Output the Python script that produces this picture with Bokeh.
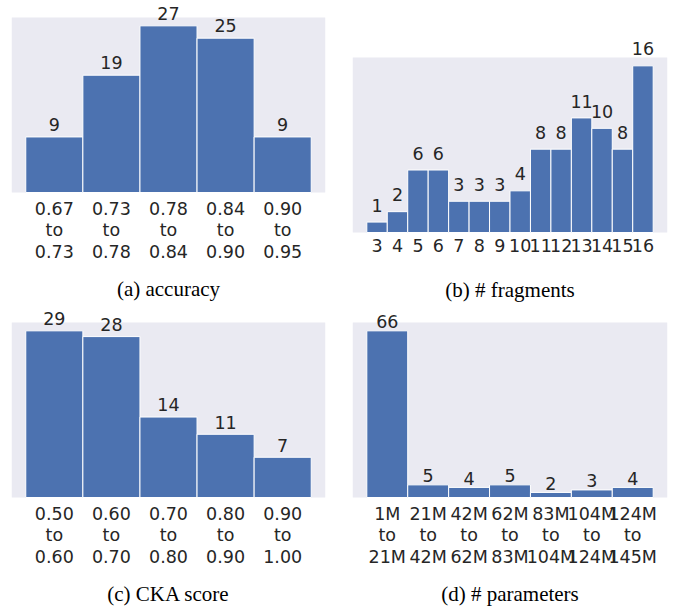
from bokeh.plotting import figure
from bokeh.models import FactorRange, Range1d, ColumnDataSource, LabelSet, BoxAnnotation
from bokeh.layouts import column, row
from bokeh.core.properties import value
from bokeh.embed import file_html
from bokeh.resources import INLINE

acc_bins = ["0.67\nto\n0.73", "0.73\nto\n0.78", "0.78\nto\n0.84", "0.84\nto\n0.90", "0.90\nto\n0.95"]
acc_counts = [9, 19, 27, 25, 9]

frag_bins = ["3", "4", "5", "6", "7", "8", "9", "10", "11", "12", "13", "14", "15", "16"]
frag_counts = [1, 2, 6, 6, 3, 3, 3, 4, 8, 8, 11, 10, 8, 16]

cka_bins = ["0.50\nto\n0.60", "0.60\nto\n0.70", "0.70\nto\n0.80", "0.80\nto\n0.90", "0.90\nto\n1.00"]
cka_counts = [29, 28, 14, 11, 7]

param_bins = ["1M\nto\n21M", "21M\nto\n42M", "42M\nto\n62M", "62M\nto\n83M",
              "83M\nto\n104M", "104M\nto\n124M", "124M\nto\n145M"]
param_counts = [66, 5, 4, 5, 2, 3, 4]

captions = ["(a) accuracy", "(b) # fragments", "(c) CKA score", "(d) # parameters"]

BAR = "#4C72B0"
BG = "#EAEAF2"
TXT = "#262626"
FS = "17.5px"
W, H = 337, 305
PANEL_H = 175  # height of the shaded panel in pixels


def make(bins, counts, caption, mbl, mbr, panel_bottom, cap_standoff):
    top_val = max(counts) * 1.05
    s = PANEL_H / top_val
    p = figure(x_range=FactorRange(*bins, range_padding=0.1, range_padding_units="percent"),
               y_range=Range1d((panel_bottom - H) / s, panel_bottom / s),
               width=W, height=H, title=None,
               output_backend="svg", toolbar_location=None,
               y_axis_location=None,
               min_border_left=mbl, min_border_right=mbr,
               min_border_top=0, min_border_bottom=0)
    p.add_layout(BoxAnnotation(bottom=0, top=top_val, fill_color=BG, fill_alpha=1.0,
                               line_color=None, level="underlay"))
    src = ColumnDataSource(dict(x=bins, y=counts, ly=[c + 1.0 for c in counts],
                                t=[str(c) for c in counts]))
    p.vbar(x="x", top="y", width=1.0, source=src, fill_color=BAR, line_color="white", line_width=1)
    p.add_layout(LabelSet(x="x", y="ly", text="t", source=src, text_align="center",
                          text_baseline="alphabetic", y_offset=0,
                          text_font=value("DejaVu Sans"),
                          text_font_size=value(FS), text_color=TXT))
    p.background_fill_color = "white"
    p.border_fill_color = "white"
    p.outline_line_color = None
    p.xgrid.visible = False
    p.ygrid.visible = False
    ax = p.xaxis[0]
    ax.fixed_location = 0
    ax.axis_line_color = None
    ax.major_tick_line_color = None
    ax.minor_tick_line_color = None
    ax.major_label_text_font = "DejaVu Sans"
    ax.major_label_text_font_size = FS
    ax.major_label_text_color = TXT
    ax.major_label_text_line_height = 1.08
    ax.major_label_standoff = 0
    ax.axis_label = caption
    ax.axis_label_text_font = "Liberation Serif"
    ax.axis_label_text_font_style = "normal"
    ax.axis_label_text_font_size = "21px"
    ax.axis_label_text_color = "black"
    ax.axis_label_standoff = cap_standoff
    return p


pa = make(acc_bins, acc_counts, captions[0], 11, 12, 192, 12)
pb = make(frag_bins, frag_counts, captions[1], 15, 7, 232, 23)
pc = make(cka_bins, cka_counts, captions[2], 11, 12, 192, 12)
pd = make(param_bins, param_counts, captions[3], 15, 7, 192, 12)

layout = column(row(pa, pb), row(pc, pd))
open("out.html", "w").write(file_html(layout, INLINE))
